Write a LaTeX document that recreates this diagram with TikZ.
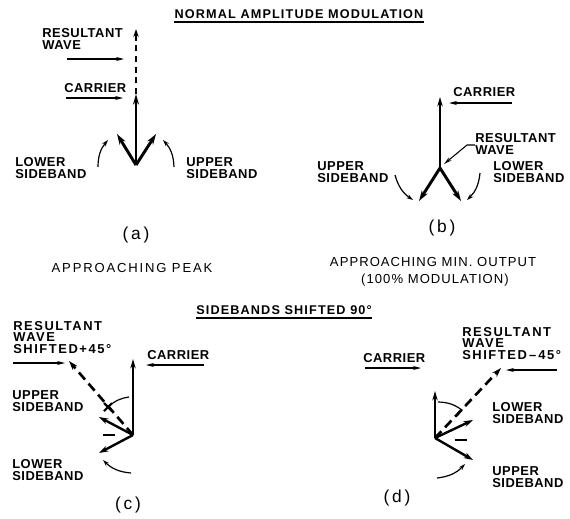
\documentclass[tikz,border=0pt]{standalone}
\usepackage{fontspec}
\setsansfont{Liberation Sans}
\usetikzlibrary{arrows.meta}
\begin{document}
\begin{tikzpicture}[x=0.75pt,y=-0.75pt,
  lbl/.style={font=\sffamily\bfseries\fontsize{9.7}{9}\selectfont\addfontfeature{LetterSpace=4},align=left,anchor=north west,inner sep=0pt},
  lblw/.style={lbl,font=\sffamily\bfseries\fontsize{9.7}{8.6}\selectfont\addfontfeature{LetterSpace=12}},
  ttl/.style={font=\sffamily\bfseries\fontsize{9.5}{11}\selectfont\addfontfeature{LetterSpace=9},inner sep=0pt},
  capt/.style={font=\sffamily\fontsize{13}{15}\selectfont,inner sep=0pt},
  note/.style={font=\sffamily\fontsize{9.8}{12}\selectfont\addfontfeature{LetterSpace=#1},inner sep=0pt},
  ptr/.style={line width=0.8pt,-{Stealth[length=6pt,width=3pt]}},
  rot/.style={line width=0.9pt,-{Stealth[length=5pt,width=3.2pt]}},
  carA/.style={line width=1.6pt,-{Stealth[length=8pt,width=4.5pt]}},
  sbA/.style={line width=2.2pt,-{Stealth[length=8pt,width=5pt]}},
  resA/.style={line width=1.8pt,dash pattern=on 4.5pt off 3.5pt,-{Stealth[length=6pt,width=4pt]}},
  car/.style={line width=1.2pt,-{Stealth[length=7pt,width=4pt]}},
  sb/.style={line width=1.8pt,-{Stealth[length=7pt,width=4.5pt]}},
  res/.style={line width=2pt,dash pattern=on 7pt off 4pt,-{Stealth[length=7pt,width=4.5pt]}},
  thin/.style={line width=0.9pt}]
\useasboundingbox (0,0) rectangle (570,518);

% ---------- titles ----------
\node[ttl] (t1) at (299,14) {NORMAL AMPLITUDE MODULATION};
\draw[line width=0.9pt] ([yshift=-2.5pt]t1.south west) -- ([yshift=-2.5pt]t1.south east);
\node[ttl] (t2) at (284,310) {SIDEBANDS SHIFTED 90\textdegree};
\draw[line width=0.9pt] ([yshift=-2.5pt]t2.south west) -- ([yshift=-2.5pt]t2.south east);

% ---------- panel (a) ----------
\coordinate (a0) at (136,165);
\coordinate (ac) at (136,94);
\coordinate (ar) at (136,29);
\coordinate (al) at (117,134);
\coordinate (au) at (156,134);
\draw[carA] (a0) -- (ac);
\draw[resA] (ac) -- (ar);
\draw[sbA] (a0) -- (al);
\draw[sbA] (a0) -- (au);
\coordinate (aL1) at (98,167); \coordinate (aL2) at (108,140);
\coordinate (aU1) at (174,167); \coordinate (aU2) at (163,140);
\draw[rot] (aL1) to[bend left=20] (aL2);
\draw[rot] (aU1) to[bend right=20] (aU2);
\node[lbl] (aRes) at (42,28) {RESULTANT\\WAVE};
\coordinate (aRp) at (67,59); \coordinate (aRq) at (124,59);
\draw[ptr] (aRp) -- (aRq);
\node[lbl] (aCar) at (64,83) {CARRIER};
\coordinate (aCp) at (66,98); \coordinate (aCq) at (123,98);
\draw[ptr] (aCp) -- (aCq);
\node[lbl] (aLow) at (15,157) {LOWER\\SIDEBAND};
\node[lbl] (aUp) at (186,157) {UPPER\\SIDEBAND};
\node[capt] (aCap) at (136,235) {(\,a\,)};
\node[note=14] (aNote) at (132,268) {APPROACHING PEAK};

% ---------- panel (b) ----------
\coordinate (b0) at (440,168);
\coordinate (bc) at (440,97);
\coordinate (bl) at (419,201);
\coordinate (br) at (461,201);
\draw[car] (b0) -- (bc);
\draw[sbA] (b0) -- (bl);
\draw[sbA] (b0) -- (br);
\coordinate (bL1) at (395,175); \coordinate (bL2) at (413,200);
\coordinate (bR1) at (480,173); \coordinate (bR2) at (467,200);
\draw[rot] (bL1) to[bend right=20] (bL2);
\draw[rot] (bR1) to[bend left=20] (bR2);
\node[lbl] (bCar) at (453,87) {CARRIER};
\coordinate (bCp) at (512,103); \coordinate (bCq) at (449,103);
\draw[ptr] (bCp) -- (bCq);
\node[lbl] (bRes) at (475,133) {RESULTANT\\WAVE};
\coordinate (bRp) at (475,145); \coordinate (bRm) at (467,145); \coordinate (bRq) at (444,164);
\draw[ptr] (bRp) -- (bRm) -- (bRq);
\node[lbl] (bUp) at (317,161) {UPPER\\SIDEBAND};
\node[lbl] (bLow) at (493,161) {LOWER\\SIDEBAND};
\node[capt] (bCap) at (442,228) {(\,b\,)};
\node[note=8] (bNote1) at (433,262) {APPROACHING MIN. OUTPUT};
\node[note=8] (bNote2) at (435,280) {(100\% MODULATION)};

% ---------- panel (c) ----------
\coordinate (c0) at (133,435);
\coordinate (cc) at (133,359);
\coordinate (cr) at (69,361);
\coordinate (cu) at (99,417);
\coordinate (cl) at (99,453);
\draw[car] (c0) -- (cc);
\draw[res] (c0) -- (cr);
\draw[sb] (c0) -- (cu);
\draw[sb] (c0) -- (cl);
\coordinate (cs1) at (103,435); \coordinate (cs2) at (115,435);
\draw[line width=1.5pt] (cs1) -- (cs2);
\coordinate (cA1) at (129,397); \coordinate (cX) at (108,407);
\draw[thin] (cA1) to[bend right=17] (cX);
\draw[line width=1.6pt] ([shift={(-4,-4)}]cX) -- ([shift={(4,4)}]cX) ([shift={(-4,4)}]cX) -- ([shift={(4,-4)}]cX);
\coordinate (cL1) at (131,473); \coordinate (cL2) at (103,460);
\draw[rot] (cL1) to[bend left=20] (cL2);
\node[lblw] (cRes) at (13,321) {RESULTANT\\WAVE\\SHIFTED+45\textdegree};
\coordinate (cRp) at (13,363); \coordinate (cRq) at (65,363);
\draw[ptr] (cRp) -- (cRq);
\node[lbl] (cCar) at (147,350) {CARRIER};
\coordinate (cCp) at (204,365); \coordinate (cCq) at (146,365);
\draw[ptr] (cCp) -- (cCq);
\node[lbl] (cUp) at (12,390) {UPPER\\SIDEBAND};
\node[lbl] (cLow) at (12,459) {LOWER\\SIDEBAND};
\node[capt] (cCap) at (128,505) {(\,c\,)};

% ---------- panel (d) ----------
\coordinate (d0) at (435,438);
\coordinate (dc) at (435,391);
\coordinate (dr) at (501,368);
\coordinate (dl) at (473,420);
\coordinate (du) at (473,460);
\draw[car] (d0) -- (dc);
\draw[res] (d0) -- (dr);
\draw[sb] (d0) -- (dl);
\draw[sb] (d0) -- (du);
\coordinate (ds1) at (455,440); \coordinate (ds2) at (467,440);
\draw[line width=1.5pt] (ds1) -- (ds2);
\coordinate (dA1) at (438,402); \coordinate (dA2) at (462,410); \coordinate (dA3) at (457,416);
\draw[thin] (dA1) to[bend left=17] (dA2) -- (dA3);
\coordinate (dU1) at (437,478); \coordinate (dU2) at (465,464);
\draw[rot] (dU1) to[bend right=20] (dU2);
\node[lbl] (dCar) at (363,353) {CARRIER};
\coordinate (dCp) at (365,368); \coordinate (dCq) at (421,368);
\draw[ptr] (dCp) -- (dCq);
\node[lblw] (dRes) at (462,327) {RESULTANT\\WAVE\\SHIFTED\,\textendash\,45\textdegree};
\coordinate (dRp) at (557,370); \coordinate (dRq) at (506,370);
\draw[ptr] (dRp) -- (dRq);
\node[lbl] (dLow) at (492,402) {LOWER\\SIDEBAND};
\node[lbl] (dUp) at (492,466) {UPPER\\SIDEBAND};
\node[capt] (dCap) at (397,498) {(\,d\,)};
\end{tikzpicture}
\end{document}
